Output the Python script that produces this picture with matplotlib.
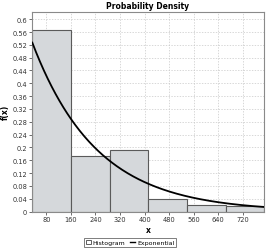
import numpy as np
import matplotlib
matplotlib.use("Agg")
import matplotlib.pyplot as plt
from matplotlib.patches import Patch
from matplotlib.lines import Line2D

# Histogram bins (edges) and density heights
bin_edges = [34, 160, 286, 412, 538, 664, 790]
bin_heights = [0.565, 0.172, 0.191, 0.038, 0.020, 0.017]

# Fitted exponential curve parameters
exp_amp = 0.527      # value at x = exp_x0
exp_x0 = 34
exp_rate = 0.00477

x_ticks = [80, 160, 240, 320, 400, 480, 560, 640, 720]
y_ticks = [0, 0.04, 0.08, 0.12, 0.16, 0.2, 0.24, 0.28, 0.32, 0.36, 0.4, 0.44, 0.48, 0.52, 0.56, 0.6]

fig = plt.figure(figsize=(2.71, 2.51), dpi=100)
ax = fig.add_axes([0.118, 0.153, 0.856, 0.796])

edges = np.array(bin_edges, dtype=float)
ax.bar(edges[:-1], bin_heights, width=np.diff(edges), align="edge",
       color="#d5d8db", edgecolor="#5a5a5a", linewidth=0.8, zorder=2)

xs = np.linspace(edges[0], edges[-1], 300)
ax.plot(xs, exp_amp * np.exp(-exp_rate * (xs - exp_x0)), color="black", lw=1.3, zorder=3)

ax.set_xlim(edges[0] - 1, edges[-1] - 1)
ax.set_ylim(0, 0.623)
ax.set_xticks(x_ticks)
ax.set_yticks(y_ticks)
ax.set_yticklabels([("%g" % v) for v in y_ticks])
ax.tick_params(labelsize=4.8, length=2, width=0.5, pad=1.5, colors="#333333")
ax.grid(True, ls=(0, (2, 2)), color="#c8c8c8", lw=0.5, zorder=0)
ax.set_axisbelow(True)
for s in ax.spines.values():
    s.set_color("#8a8a8a")
    s.set_linewidth(0.8)

ax.set_title("Probability Density", fontsize=5.5, fontweight="bold", pad=3)
ax.set_xlabel("x", fontsize=5.5, fontweight="bold", labelpad=2)
ax.set_ylabel("f(x)", fontsize=5.5, fontweight="bold")
ax.yaxis.set_label_coords(-0.095, 0.5)

handles = [Patch(facecolor="white", edgecolor="#444444", lw=0.6),
           Line2D([0], [0], color="black", lw=1)]
leg = fig.legend(handles, ["Histogram", "Exponential"], loc="center",
                 bbox_to_anchor=(0.48, 0.03), ncol=2, fontsize=4.5,
                 frameon=True, fancybox=False, handlelength=0.8, handleheight=0.8,
                 handletextpad=0.3, columnspacing=0.8, borderpad=0.3)
leg.get_frame().set_edgecolor("#444444")
leg.get_frame().set_linewidth(0.6)

fig.savefig("out.png", dpi=100)
